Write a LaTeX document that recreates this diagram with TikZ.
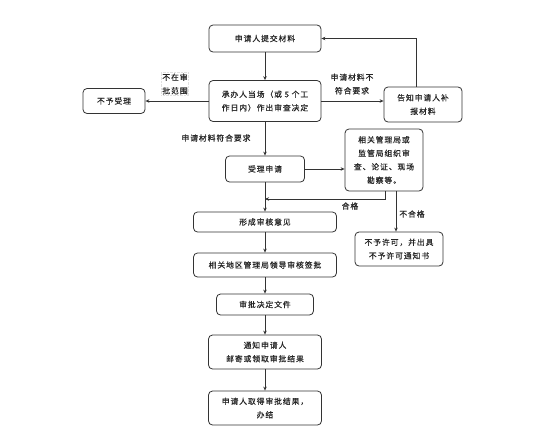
\documentclass[tikz,border=0pt]{standalone}
\usepackage{fontspec}
\newfontfamily\cjk[LetterSpace=12,FakeBold=0.6]{Noto Sans CJK SC}
\usetikzlibrary{arrows.meta}
\begin{document}
\begin{tikzpicture}[x=1pt,y={(0pt,-1pt)},
  box/.style={draw=black!80,line width=0.8pt,rounded corners=4pt,inner sep=0pt,align=center,
    font=\cjk\fontsize{7.8}{13.5}\selectfont,text=black!85},
  lbl/.style={inner sep=0pt,align=center,font=\cjk\fontsize{7.8}{13.5}\selectfont,text=black!85},
  arr/.style={draw=black!80,line width=0.8pt,-{Stealth[length=4pt,width=3.5pt]}},
  ln/.style={draw=black!80,line width=0.8pt}]
\useasboundingbox (0,0) rectangle (543,442);
\node[box,minimum width=112pt,minimum height=27pt] (b1) at (265,38.5) {申请人提交材料};
\node[box,minimum width=112pt,minimum height=41pt] (b2) at (265,101) {承办人当场（或 5 个工\\作日内）作出审查决定};
\node[box,minimum width=62pt,minimum height=25pt] (no) at (114,101) {不予受理};
\node[box,minimum width=78pt,minimum height=35pt] (tell) at (423,104.5) {告知申请人补\\报材料};
\node[box,minimum width=79pt,minimum height=26pt] (acc) at (265,169) {受理申请};
\node[box,minimum width=78pt,minimum height=62pt] (rel) at (384,160) {相关管理局或\\监管局组织审\\查、论证、现场\\勘察等。};
\node[box,minimum width=143pt,minimum height=20pt] (form) at (265,222) {形成审核意见};
\node[box,minimum width=88pt,minimum height=34pt] (deny) at (399,249) {不予许可，并出具\\不予许可通知书};
\node[box,minimum width=143pt,minimum height=24pt] (lead) at (265,265) {相关地区管理局领导审核签批};
\node[box,minimum width=97pt,minimum height=21pt] (doc) at (265,304.5) {审批决定文件};
\node[box,minimum width=113pt,minimum height=34pt] (notif) at (265,352) {通知申请人\\邮寄或领取审批结果};
\node[box,minimum width=113pt,minimum height=34pt] (done) at (265,408) {申请人取得审批结果，\\办结};
% labels
\node[lbl,draw=black!12,densely dotted,line width=0.4pt,inner sep=1pt] (l1) at (175,84) {不在审\\批范围};
\node[lbl] (l2) at (352,84) {申请材料不\\符合要求};
\node[lbl] (l3) at (216,138) {申请材料符合要求};
\node[lbl] (l4) at (350,206) {合格};
\node[lbl] (l5) at (412,214) {不合格};
% connectors
\coordinate (j) at (265,199);
\draw[arr] (b1) -- (b2);
\draw[arr] (b2.west) -- (no.east);
\draw[arr] (b2.east) -- (b2.east -| tell.west);
\draw[arr] ([xshift=-7pt]tell.north) |- (b1.east);
\draw[arr] (b2) -- (acc);
\draw[arr] (acc.east) -- (acc.east -| rel.west);
\draw[arr] ([xshift=1pt]rel.south) |- (j);
\draw[arr] (acc) -- (form);
\draw[arr] ([xshift=12pt]rel.south) -- ([xshift=12pt]rel.south |- deny.north);
\draw[arr] (form) -- (lead);
\draw[arr] (lead) -- (doc);
\draw[arr] (doc) -- (notif);
\draw[arr] (notif) -- (done);
\end{tikzpicture}
\end{document}
